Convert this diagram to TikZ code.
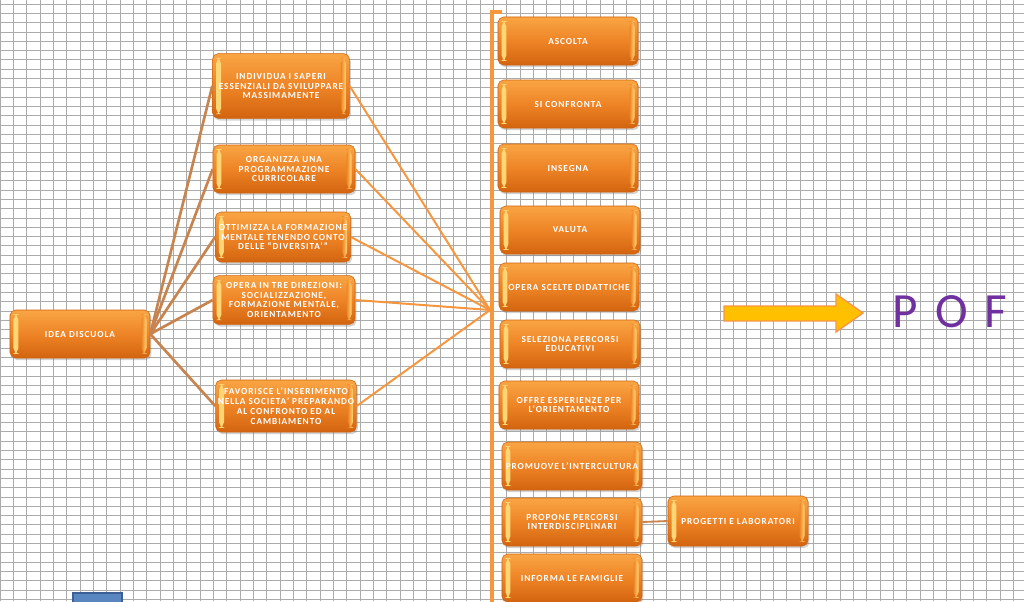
\documentclass[tikz,border=0pt]{standalone}
\usepackage{fontspec}
\setmainfont{Carlito}
\newfontfamily\boxfont[LetterSpace=10]{Carlito}
\newfontfamily\poffont[LetterSpace=12]{Carlito}
\definecolor{oLight}{HTML}{F9A544}
\definecolor{oMid}{HTML}{EE8426}
\definecolor{oDark}{HTML}{D2640F}
\definecolor{oBevel}{HTML}{FFD978}
\definecolor{linkBrown}{HTML}{C8844E}
\definecolor{linkOrange}{HTML}{F7963C}
\definecolor{arrowGold}{HTML}{FFC000}
\definecolor{arrowEdge}{HTML}{F79646}
\definecolor{pofPurple}{HTML}{7030A0}
\definecolor{gridGray}{HTML}{ABABAB}
\definecolor{chipEdge}{HTML}{3C5F96}
\definecolor{chipFill}{HTML}{5A86C0}
\usetikzlibrary{shadows}

\begin{document}
\begin{tikzpicture}[x=0.025cm, y=-0.025cm,
  card/.style={rounded corners=4pt, draw=oDark, thin,
              top color=oLight, bottom color=oDark, middle color=oMid,
              text=white, font=\boxfont\bfseries\fontsize{6.6}{7}\selectfont,
              align=center, inner sep=1pt,
              minimum width=3.5cm, minimum height=1.2cm,
              drop shadow={shadow xshift=1pt, shadow yshift=-1.5pt, opacity=0.35},
              path picture={
                \shade[left color=oBevel, right color=oMid]
                  ([xshift=2.5pt,yshift=-3pt]path picture bounding box.north west)
                  rectangle ([xshift=6pt,yshift=3pt]path picture bounding box.south west);
                \shade[left color=oMid, right color=oBevel]
                  ([xshift=-6pt,yshift=-3pt]path picture bounding box.north east)
                  rectangle ([xshift=-2.5pt,yshift=3pt]path picture bounding box.south east);}},
  gridline/.style={gridGray, line width=0.5pt},
  trunk/.style={linkBrown, line width=1.9pt},
  spoke/.style={linkOrange, line width=1.4pt},
  bracket/.style={linkOrange, line width=2.6pt},
  bigarrow/.style={fill=arrowGold, draw=arrowEdge, line width=1pt, line join=miter},
  pof/.style={text=pofPurple, font=\poffont\fontsize{35}{40}\selectfont}]

  % sheet
  \useasboundingbox (0,0) rectangle (1024,601);
  \clip (0,0) rectangle (1024,601);
  \fill[white] (0,0) rectangle (1024,601);
  \foreach \k in {0,...,76}
    \draw[gridline] (13.333*\k,0) -- (13.333*\k,601);
  \foreach \k in {0,...,64}
    \draw[gridline] (0,4+9.3*\k) -- (1024,4+9.3*\k);

  % root and what it does
  \node[card] (idea) at (80,334) {IDEA DISCUOLA};
  \node[card, minimum width=3.42cm, minimum height=1.62cm] (individua) at (281,86)
    {INDIVIDUA I SAPERI\\ESSENZIALI DA SVILUPPARE\\MASSIMAMENTE};
  \node[card, minimum width=3.55cm] (organizza) at (284,169)
    {ORGANIZZA UNA\\PROGRAMMAZIONE\\CURRICOLARE};
  \node[card, minimum width=3.38cm, minimum height=1.25cm] (ottimizza) at (283,237)
    {OTTIMIZZA LA FORMAZIONE\\MENTALE TENENDO CONTO\\DELLE “DIVERSITA’”};
  \node[card, minimum width=3.55cm, minimum height=1.22cm] (operatre) at (284,300)
    {OPERA IN TRE DIREZIONI:\\SOCIALIZZAZIONE,\\FORMAZIONE MENTALE,\\ORIENTAMENTO};
  \node[card, minimum width=3.52cm, minimum height=1.3cm] (favorisce) at (286,406)
    {FAVORISCE L’INSERIMENTO\\NELLA SOCIETA’ PREPARANDO\\AL CONFRONTO ED AL\\CAMBIAMENTO};

  % bracket column
  \coordinate (hub) at (490,310);
  \draw[bracket] (502,12) -- (492,12) -- (492,610);
  \foreach \n in {individua,organizza,ottimizza,operatre,favorisce}{
    \draw[trunk] (idea.east) -- (\n.west);
    \draw[spoke] (\n.east) -- (hub);}

  \node[card] (ascolta)   at (568,41)  {ASCOLTA};
  \node[card] (confronta) at (568,104) {SI CONFRONTA};
  \node[card] (insegna)   at (568,168) {INSEGNA};
  \node[card] (valuta)    at (570,230) {VALUTA};
  \node[card] (scelte)    at (569,287) {OPERA SCELTE DIDATTICHE};
  \node[card] (seleziona) at (570,344) {SELEZIONA PERCORSI\\EDUCATIVI};
  \node[card] (offre)     at (569,405) {OFFRE ESPERIENZE PER\\L’ORIENTAMENTO};
  \node[card] (promuove)  at (572,466) {PROMUOVE L’INTERCULTURA};
  \node[card] (propone)   at (572,522) {PROPONE PERCORSI\\INTERDISCIPLINARI};
  \node[card] (informa)   at (572,578) {INFORMA LE FAMIGLIE};
  \node[card, minimum height=1.25cm] (progetti) at (738,521) {PROGETTI E LABORATORI};
  \draw[trunk, line width=1.3pt] (propone.east) -- (progetti.west);

  % result
  \filldraw[bigarrow] (724,306) -- (836,306) -- (836,294) -- (863,313)
    -- (836,332) -- (836,321) -- (724,321) -- cycle;
  \node[pof] (pof) at (950,312) {P O F};

  \filldraw[fill=chipFill, draw=chipEdge, line width=1.5pt] (73,593) rectangle (122,612);
\end{tikzpicture}
\end{document}
